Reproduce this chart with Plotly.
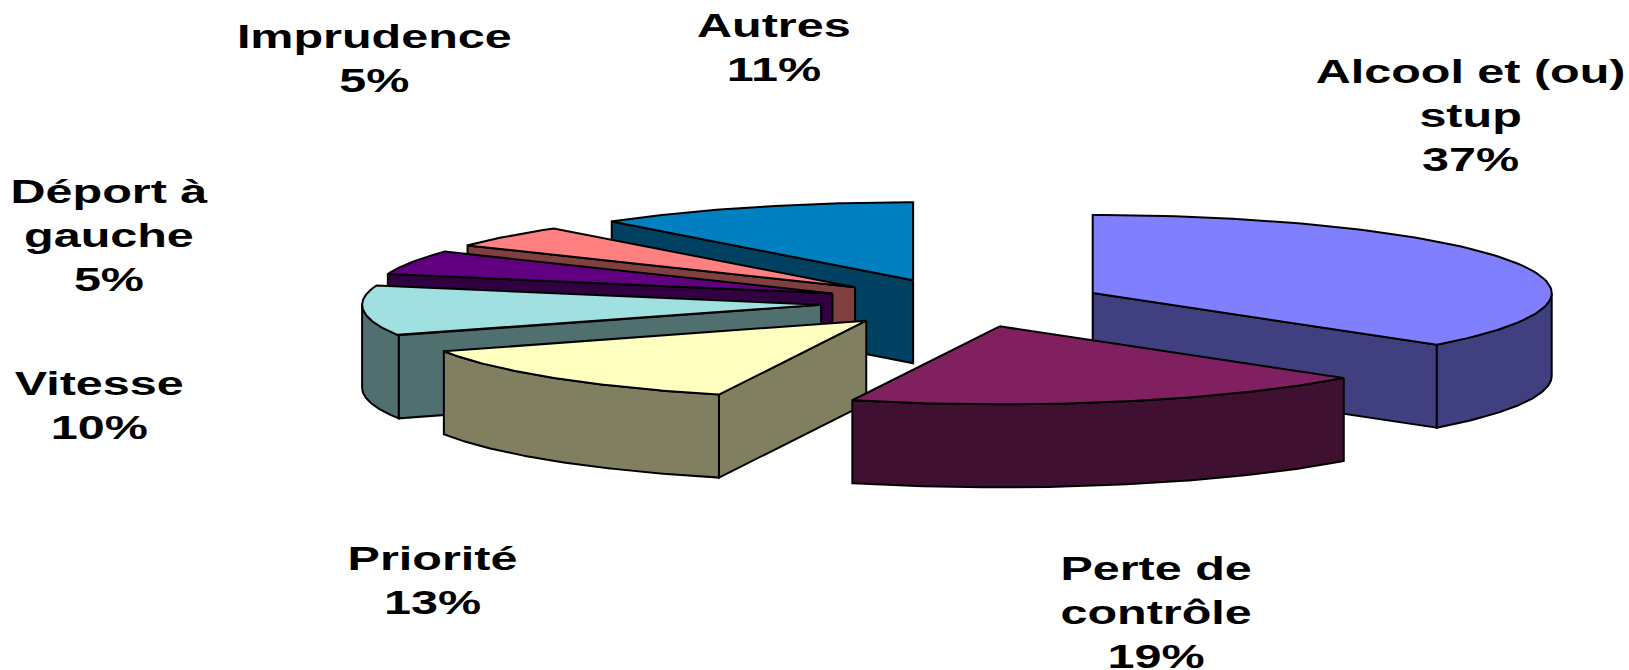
import numpy as np
import plotly.graph_objects as go

# --- data (shares estimated from the slice edges; they round to the printed labels) ---
categories = ["Alcool et (ou)<br>stup", "Perte de<br>contrôle", "Priorité", "Vitesse",
              "Déport à<br>gauche", "Imprudence", "Autres"]
values = [36.51, 18.69, 13.4, 10.4, 5.0, 4.6, 11.4]

# --- styles ---
top_colors = ["#8080FF", "#802060", "#FFFFC0", "#A0E0E0", "#600080", "#FF8080", "#0080C0"]
side_colors = ["#404080", "#401030", "#808060", "#507070", "#300040", "#804040", "#004060"]
label_x = [1470, 1156, 432, 99, 109, 374, 774]
label_y = [115, 612, 580, 405, 235, 58, 47]
draw_order = [6, 5, 4, 3, 2, 0, 1]

CX, CY = 963, 303       # pie centre (px)
RX, RY = 459, 78        # projected radii (px)
DEPTH = 83              # extrusion (px)
EXPLODE = 0.31
LINE = 2

total = sum(values)
edges = np.concatenate([[0], np.cumsum(values)]) / total * 360.0


def rim(ax, ay, t1, t2, n=90):
    t = np.radians(np.linspace(t1, t2, n))
    return ax + RX * np.sin(t), ay - RY * np.cos(t)


def poly(fig, xs, ys, color):
    xs = np.append(xs, xs[0])
    ys = np.append(ys, ys[0])
    fig.add_trace(go.Scatter(x=xs, y=ys, mode="lines", fill="toself", fillcolor=color,
                             line=dict(color="black", width=LINE), hoverinfo="skip",
                             showlegend=False))


fig = go.Figure()
for i in draw_order:
    t1, t2 = edges[i], edges[i + 1]
    mid = np.radians((t1 + t2) / 2)
    ax = CX + EXPLODE * RX * np.sin(mid)
    ay = CY - EXPLODE * RY * np.cos(mid)
    # radial walls that face the viewer
    for t, visible in ((t1, np.sin(np.radians(t1)) < -1e-9), (t2, np.sin(np.radians(t2)) > 1e-9)):
        if visible:
            ex, ey = rim(ax, ay, t, t, 1)
            poly(fig, np.array([ax, ex[0], ex[0], ax]),
                 np.array([ay, ey[0], ey[0] + DEPTH, ay + DEPTH]), side_colors[i])
    # outer side, front half only
    lo, hi = max(t1, 90), min(t2, 270)
    if hi > lo:
        rx_, ry_ = rim(ax, ay, lo, hi)
        poly(fig, np.concatenate([rx_, rx_[::-1]]),
             np.concatenate([ry_, ry_[::-1] + DEPTH]), side_colors[i])
    # top face
    rx_, ry_ = rim(ax, ay, t1, t2)
    poly(fig, np.concatenate([[ax], rx_]), np.concatenate([[ay], ry_]), top_colors[i])

for name, v, lx, ly in zip(categories, values, label_x, label_y):
    fig.add_annotation(x=lx, y=ly, text=f"<b>{name}<br>{round(v / total * 100)}%</b>",
                       showarrow=False, align="center", xanchor="center", yanchor="middle",
                       font=dict(family="Liberation Sans", size=34, color="black"))

fig.update_layout(
    width=1629, height=670, margin=dict(l=0, r=0, t=0, b=0),
    paper_bgcolor="white", plot_bgcolor="white",
    xaxis=dict(range=[0, 1629], visible=False, fixedrange=True),
    yaxis=dict(range=[670, 0], visible=False, fixedrange=True),
)

# page without margin; the reference's labels are horizontally stretched bold text
stretch = """
document.body.style.margin = '0';
document.body.style.overflow = 'hidden';
document.querySelectorAll('text.annotation-text').forEach(function (t) {
  var b = t.getBBox(), c = b.x + b.width / 2;
  t.setAttribute('transform', 'translate(' + c + ' 0) scale(1.427 1) translate(' + (-c) + ' 0)');
});
"""
fig.write_html("out.html", post_script=stretch, config={"displayModeBar": False})
